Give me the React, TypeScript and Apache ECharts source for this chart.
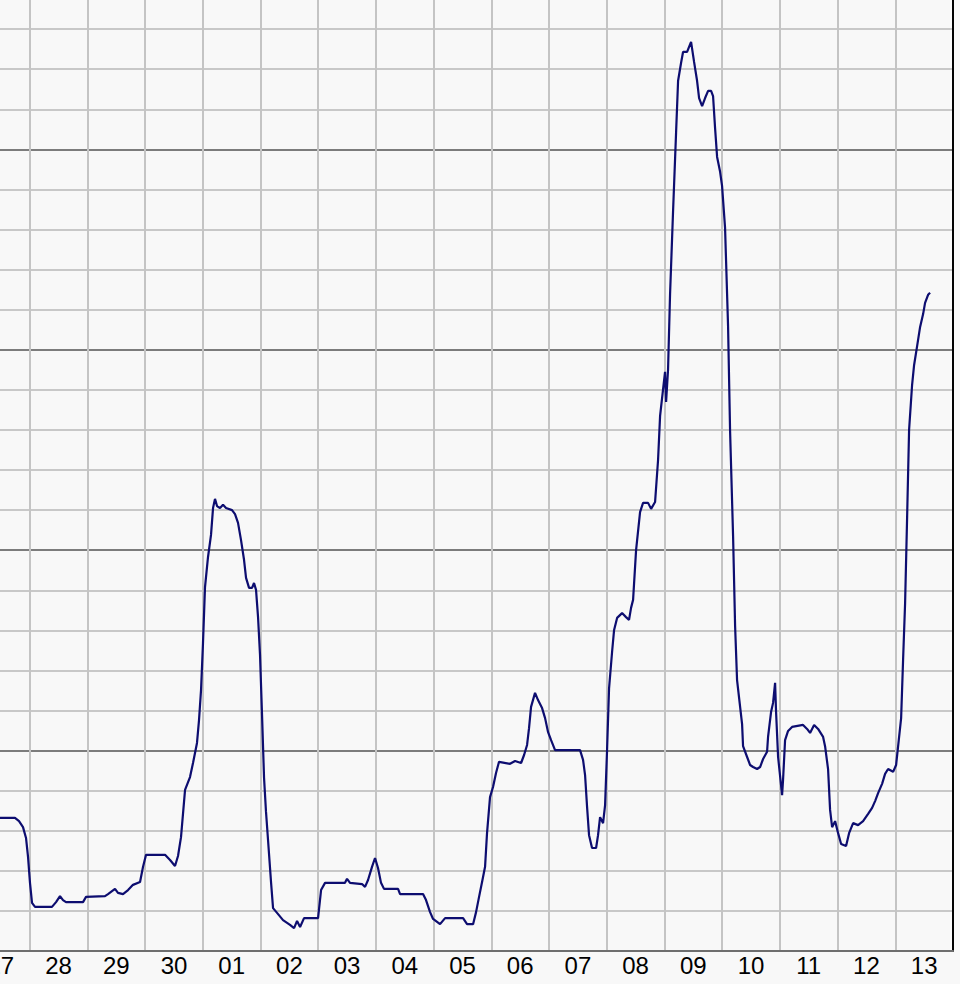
import React, { useEffect, useRef } from "react";
import * as echarts from "echarts";

const dayLabels = ["27", "28", "29", "30", "01", "02", "03", "04", "05", "06", "07", "08", "09", "10", "11", "12", "13"];

// x: days since start of the 27th; y: level (major grid every 5 units)
const dayPos = [0.485,0.745,0.815,0.884,0.936,0.971,1.005,1.040,1.092,1.386,1.456,1.525,1.577,1.629,1.924,1.976,2.305,2.357,2.478,2.530,2.617,2.704,2.790,2.912,2.964,3.016,3.345,3.432,3.518,3.570,3.622,3.692,3.778,3.830,3.899,3.934,3.969,4.003,4.038,4.090,4.142,4.177,4.211,4.246,4.298,4.350,4.402,4.506,4.558,4.610,4.662,4.714,4.749,4.801,4.853,4.887,4.922,4.957,4.991,5.026,5.061,5.095,5.130,5.182,5.217,5.286,5.390,5.511,5.581,5.633,5.685,5.754,5.997,6.049,6.118,6.464,6.499,6.551,6.759,6.811,6.863,6.932,6.984,7.036,7.088,7.140,7.383,7.418,7.816,7.868,7.938,7.990,8.111,8.198,8.510,8.579,8.683,8.735,8.787,8.839,8.891,8.925,8.977,9.029,9.081,9.133,9.324,9.411,9.515,9.567,9.619,9.653,9.688,9.757,9.809,9.879,9.931,9.983,10.035,10.104,10.537,10.589,10.624,10.659,10.693,10.745,10.815,10.849,10.884,10.936,10.971,11.005,11.040,11.092,11.127,11.179,11.265,11.334,11.386,11.421,11.456,11.508,11.577,11.629,11.716,11.768,11.837,11.889,11.924,11.976,12.010,12.028,12.062,12.097,12.149,12.201,12.236,12.288,12.322,12.392,12.461,12.513,12.565,12.600,12.652,12.704,12.756,12.808,12.842,12.877,12.912,12.964,12.998,13.050,13.102,13.137,13.189,13.224,13.258,13.345,13.362,13.432,13.484,13.536,13.605,13.657,13.709,13.778,13.795,13.847,13.882,13.917,13.934,13.969,14.038,14.055,14.090,14.142,14.211,14.402,14.471,14.523,14.593,14.662,14.749,14.783,14.835,14.870,14.905,14.957,15.009,15.061,15.147,15.199,15.269,15.355,15.442,15.529,15.598,15.650,15.702,15.771,15.823,15.875,15.962,16.014,16.049,16.101,16.135,16.170,16.205,16.239,16.291,16.326,16.378,16.430,16.482,16.516,16.568,16.603];

const level = [3.32,3.32,3.24,3.09,2.82,2.35,1.70,1.20,1.10,1.10,1.22,1.37,1.27,1.22,1.22,1.35,1.37,1.42,1.55,1.45,1.42,1.52,1.65,1.72,2.10,2.40,2.40,2.27,2.12,2.37,2.84,4.02,4.34,4.69,5.19,5.76,6.51,7.68,9.08,9.83,10.38,11.05,11.28,11.10,11.05,11.13,11.05,11.00,10.90,10.68,10.25,9.76,9.31,9.06,9.06,9.18,9.01,8.33,7.39,5.89,4.32,3.47,2.77,1.72,1.07,0.95,0.77,0.65,0.57,0.75,0.60,0.82,0.82,1.52,1.70,1.70,1.80,1.70,1.67,1.60,1.77,2.10,2.32,2.07,1.70,1.55,1.55,1.42,1.42,1.27,0.97,0.80,0.67,0.82,0.82,0.67,0.67,0.97,1.35,1.72,2.10,2.94,3.84,4.09,4.44,4.72,4.67,4.74,4.69,4.89,5.14,5.56,6.09,6.44,6.26,6.06,5.81,5.46,5.26,5.01,5.01,4.77,4.39,3.59,2.89,2.57,2.57,2.89,3.34,3.19,3.64,5.01,6.56,7.46,8.01,8.31,8.43,8.33,8.26,8.56,8.76,10.00,10.95,11.18,11.18,11.03,11.20,12.25,13.35,14.02,14.45,13.70,14.50,16.39,18.46,20.41,21.71,22.16,22.43,22.43,22.68,22.18,21.71,21.28,21.08,21.28,21.46,21.46,21.33,20.53,19.81,19.44,19.09,18.04,15.59,12.97,10.35,8.11,6.76,5.66,5.11,4.84,4.64,4.59,4.54,4.59,4.79,4.97,5.34,5.96,6.19,6.69,5.96,4.84,3.89,4.27,5.26,5.49,5.59,5.64,5.54,5.44,5.64,5.54,5.34,5.11,4.54,3.52,3.09,3.24,2.94,2.67,2.62,2.94,3.19,3.14,3.24,3.42,3.57,3.74,3.94,4.17,4.42,4.54,4.47,4.64,5.11,5.81,7.26,8.68,10.83,13.00,14.12,14.62,15.09,15.57,15.89,16.17,16.37,16.42];

const yMax = 24;
const minorStep = 1;
const majorStep = 5;

export default function App() {
  const ref = useRef<HTMLDivElement>(null);

  useEffect(() => {
    if (!ref.current) return;
    const chart = echarts.init(ref.current, undefined, { renderer: "svg" });
    const n = Math.min(dayPos.length, level.length);
    const seriesData: number[][] = [];
    for (let i = 0; i < n; i++) seriesData.push([dayPos[i], level[i]]);

    chart.setOption({
      animation: false,
      backgroundColor: "#f8f8f8",
      grid: { left: 0, right: 7, top: 0, bottom: 33, containLabel: false },
      xAxis: [
        {
          type: "category",
          data: dayLabels,
          boundaryGap: true,
          axisLine: { show: true, lineStyle: { color: "#6e6e6e", width: 2 } },
          axisTick: { show: false },
          axisLabel: {
            interval: 0,
            color: "#000",
            fontFamily: "Liberation Sans",
            fontSize: 24,
            margin: 2,
          },
          splitLine: { show: true, interval: 0, lineStyle: { color: "#c4c4c4", width: 2 } },
        },
        {
          type: "value",
          min: 0,
          max: dayLabels.length,
          show: false,
        },
      ],
      yAxis: [
        {
          type: "value",
          min: 0,
          max: yMax,
          interval: minorStep,
          axisLine: { show: false },
          axisTick: { show: false },
          axisLabel: { show: false },
          splitLine: { show: true, lineStyle: { color: "#c8c8c8", width: 2 } },
        },
        {
          type: "value",
          min: 0,
          max: yMax,
          interval: majorStep,
          position: "right",
          axisLine: { show: true, lineStyle: { color: "#000", width: 2 } },
          axisTick: { show: false },
          axisLabel: { show: false },
          splitLine: { show: true, lineStyle: { color: "#7c7c7c", width: 2 } },
        },
      ],
      series: [
        {
          type: "line",
          xAxisIndex: 1,
          yAxisIndex: 0,
          data: seriesData,
          showSymbol: false,
          symbol: "none",
          lineStyle: { color: "#0d0d70", width: 2.2 },
          z: 5,
        },
      ],
    });
    return () => chart.dispose();
  }, []);

  return (
    <div
      style={{
        position: "fixed",
        left: 0,
        top: 0,
        width: 960,
        height: 984,
        overflow: "hidden",
        background: "#f8f8f8",
      }}
    >
      <div
        ref={ref}
        style={{ position: "absolute", left: -28, top: -11, width: 988, height: 995 }}
      />
    </div>
  );
}
